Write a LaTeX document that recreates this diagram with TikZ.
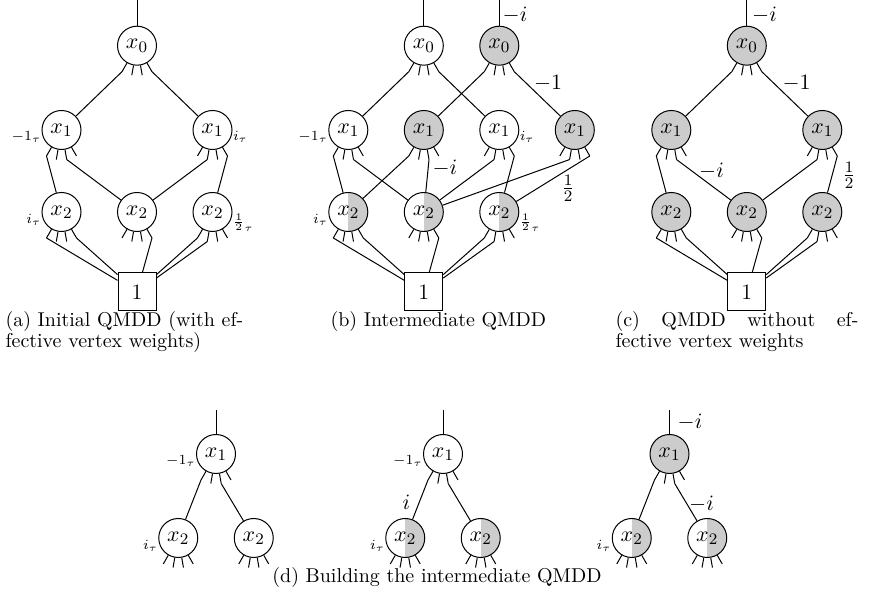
\documentclass[tikz,border=0pt]{standalone}
\usepackage{amsmath}
\usetikzlibrary{calc}
\definecolor{vshade}{gray}{0.8}
\tikzset{
  vtx/.style={circle,draw,fill=white,minimum size=19.5pt,inner sep=0pt,
    font=\fontsize{11}{13}\selectfont},
  full/.style={vtx,fill=vshade},
  half/.style={vtx,path picture={\fill[vshade] (path picture bounding box.north)
    rectangle (path picture bounding box.south east);}},
  term/.style={rectangle,draw,fill=white,minimum size=19pt,inner sep=0pt,
    font=\fontsize{11}{13}\selectfont},
  wl/.style={font=\scriptsize,inner sep=0pt},
  ew/.style={font=\fontsize{11}{13}\selectfont,inner sep=0pt},
  captext/.style={font=\fontsize{10}{12}\selectfont,inner sep=0pt,anchor=base west},
}
% four outgoing edge stubs below a vertex; their ends are named <node>-0 .. <node>-3
\newcommand\vstubs[1]{%
  \foreach \k/\a in {0/240,1/260,2/280,3/300}{%
    \draw (#1.\a) -- ($(#1)!1.5!(#1.\a)$) coordinate (#1-\k);}}
\begin{document}
\begin{tikzpicture}[x=0.5pt,y=-0.5pt,line width=0.5pt]
\useasboundingbox (0,0) rectangle (873,603);

% ---------- (a) initial QMDD ----------
\node[vtx] (a0) at (137,45.7) {$x_0$};
\node[vtx] (a1l) at (61.5,130) {$x_1$};
\node[vtx] (a1r) at (212.5,130) {$x_1$};
\node[vtx] (a2l) at (61.5,212) {$x_2$};
\node[vtx] (a2m) at (137,212) {$x_2$};
\node[vtx] (a2r) at (212.5,212) {$x_2$};
\node[term] (aT) at (137,292) {1};
\coordinate (atop) at (137,0);
\draw (atop) -- (a0);
\foreach \n in {a0,a1l,a1r,a2l,a2m,a2r}{\vstubs{\n}}
\draw (a0-0) -- (a1l); \draw (a0-3) -- (a1r);
\draw (a1l-0) -- (a2l); \draw (a1l-2) -- (a2m);
\draw (a1r-1) -- (a2m); \draw (a1r-3) -- (a2r);
\draw (a2l-0) -- (aT); \draw (a2l-3) -- (aT);
\draw (a2m-3) -- (aT);
\draw (a2r-0) -- (aT); \draw (a2r-1) -- (aT);
\node[wl,anchor=east] at ($(a1l.west)+(0,7)$) {$-1_\tau$};
\node[wl,anchor=west] at ($(a1r.east)+(0,7)$) {$i_\tau$};
\node[wl,anchor=east] at ($(a2l.west)+(0,7.5)$) {$i_\tau$};
\node[wl,anchor=west] at ($(a2r.east)+(0,11)$) {${\frac{1}{2}}_\tau$};

% ---------- (b) intermediate QMDD ----------
\node[vtx] (b0w) at (423.8,45.7) {$x_0$};
\node[full] (b0g) at (499.3,45.7) {$x_0$};
\node[vtx] (b1a) at (348.3,130) {$x_1$};
\node[full] (b1b) at (423.8,130) {$x_1$};
\node[vtx] (b1c) at (499.3,130) {$x_1$};
\node[full] (b1d) at (574.8,130) {$x_1$};
\node[half] (b2p) at (348.3,212) {$x_2$};
\node[half] (b2q) at (423.8,212) {$x_2$};
\node[half] (b2r) at (499.3,212) {$x_2$};
\node[term] (bT) at (423.8,292) {1};
\coordinate (btopw) at (423.8,0);
\coordinate (btopg) at (499.3,0);
\draw (btopw) -- (b0w); \draw (btopg) -- (b0g);
\foreach \n in {b0w,b0g,b1a,b1b,b1c,b1d,b2p,b2q,b2r}{\vstubs{\n}}
\draw (b0w-0) -- (b1a); \draw (b0w-3) -- (b1c);
\draw (b0g-0) -- (b1b); \draw (b0g-3) -- (b1d);
\draw (b1a-0) -- (b2p); \draw (b1a-2) -- (b2q);
\draw (b1b-0) -- (b2p); \draw (b1b-2) -- (b2q);
\draw (b1c-1) -- (b2q); \draw (b1c-3) -- (b2r);
\draw (b1d-1) -- (b2q); \draw (b1d-3) -- (b2r);
\draw (b2p-0) -- (bT); \draw (b2p-3) -- (bT);
\draw (b2q-3) -- (bT);
\draw (b2r-0) -- (bT); \draw (b2r-1) -- (bT);
\node[ew] at (515,15) {$-i$};
\node[ew] at (548,83) {$-1$};
\node[ew] at (445,168) {$-i$};
\node[ew] at (568,188) {$\frac{1}{2}$};
\node[wl,anchor=east] at ($(b1a.west)+(0,7)$) {$-1_\tau$};
\node[wl,anchor=west] at ($(b1c.east)+(0,7)$) {$i_\tau$};
\node[wl,anchor=east] at ($(b2p.west)+(0,7.5)$) {$i_\tau$};
\node[wl,anchor=west] at ($(b2r.east)+(0,11)$) {${\frac{1}{2}}_\tau$};

% ---------- (c) QMDD without effective vertex weights ----------
\node[full] (c0) at (746.8,45.7) {$x_0$};
\node[full] (c1l) at (671.3,130) {$x_1$};
\node[full] (c1r) at (822.3,130) {$x_1$};
\node[full] (c2l) at (671.3,212) {$x_2$};
\node[full] (c2m) at (746.8,212) {$x_2$};
\node[full] (c2r) at (822.3,212) {$x_2$};
\node[term] (cT) at (746.8,292) {1};
\coordinate (ctop) at (746.8,0);
\draw (ctop) -- (c0);
\foreach \n in {c0,c1l,c1r,c2l,c2m,c2r}{\vstubs{\n}}
\draw (c0-0) -- (c1l); \draw (c0-3) -- (c1r);
\draw (c1l-0) -- (c2l); \draw (c1l-2) -- (c2m);
\draw (c1r-1) -- (c2m); \draw (c1r-3) -- (c2r);
\draw (c2l-0) -- (cT); \draw (c2l-3) -- (cT);
\draw (c2m-3) -- (cT);
\draw (c2r-0) -- (cT); \draw (c2r-1) -- (cT);
\node[ew] at (764.5,15) {$-i$};
\node[ew] at (796.5,83.5) {$-1$};
\node[ew] at (711.5,171) {$-i$};
\node[ew] at (849,175.5) {$\frac{1}{2}$};

% ---------- (d) building the intermediate QMDD ----------
% first step
\node[vtx] (dx) at (216,454) {$x_1$};
\node[vtx] (dl) at (178.25,538) {$x_2$};
\node[vtx] (dr) at (253.75,538) {$x_2$};
\coordinate (dtop) at (216,410);
\draw (dtop) -- (dx);
\foreach \n in {dx,dl,dr}{\vstubs{\n}}
\draw (dx-0) -- (dl); \draw (dx-2) -- (dr);
\node[wl,anchor=east] at ($(dx.west)+(0,7)$) {$-1_\tau$};
\node[wl,anchor=east] at ($(dl.west)+(0,7.5)$) {$i_\tau$};
% second step
\node[vtx] (ex) at (443,454) {$x_1$};
\node[half] (el) at (405.25,538) {$x_2$};
\node[half] (er) at (480.75,538) {$x_2$};
\coordinate (etop) at (443,410);
\draw (etop) -- (ex);
\foreach \n in {ex,el,er}{\vstubs{\n}}
\draw (ex-0) -- (el); \draw (ex-2) -- (er);
\node[ew] at (406.5,502.5) {$i$};
\node[wl,anchor=east] at ($(ex.west)+(0,7)$) {$-1_\tau$};
\node[wl,anchor=east] at ($(el.west)+(0,7.5)$) {$i_\tau$};
% third step
\node[full] (fx) at (669.5,454) {$x_1$};
\node[half] (fl) at (631.75,538) {$x_2$};
\node[half] (fr) at (707.25,538) {$x_2$};
\coordinate (ftop) at (669.5,410);
\draw (ftop) -- (fx);
\foreach \n in {fx,fl,fr}{\vstubs{\n}}
\draw (fx-0) -- (fl); \draw (fx-2) -- (fr);
\node[ew] at (690,422) {$-i$};
\node[ew] at (701.5,504) {$-i$};
\node[wl,anchor=east] at ($(fl.west)+(0,7.5)$) {$i_\tau$};

% ---------- captions ----------
\node[captext] at (5,327) {(a) Initial QMDD (with ef-};
\node[captext] at (5,348) {fective vertex weights)};
\node[captext] at (330,327) {(b) Intermediate QMDD};
\node[captext] at (615,327) {\makebox[121.5pt][s]{(c) QMDD without ef-}};
\node[captext] at (615,348) {fective vertex weights};
\node[font=\fontsize{10}{12}\selectfont,inner sep=0pt,anchor=base] at (437,583)
  {(d) Building the intermediate QMDD};
\end{tikzpicture}
\end{document}
